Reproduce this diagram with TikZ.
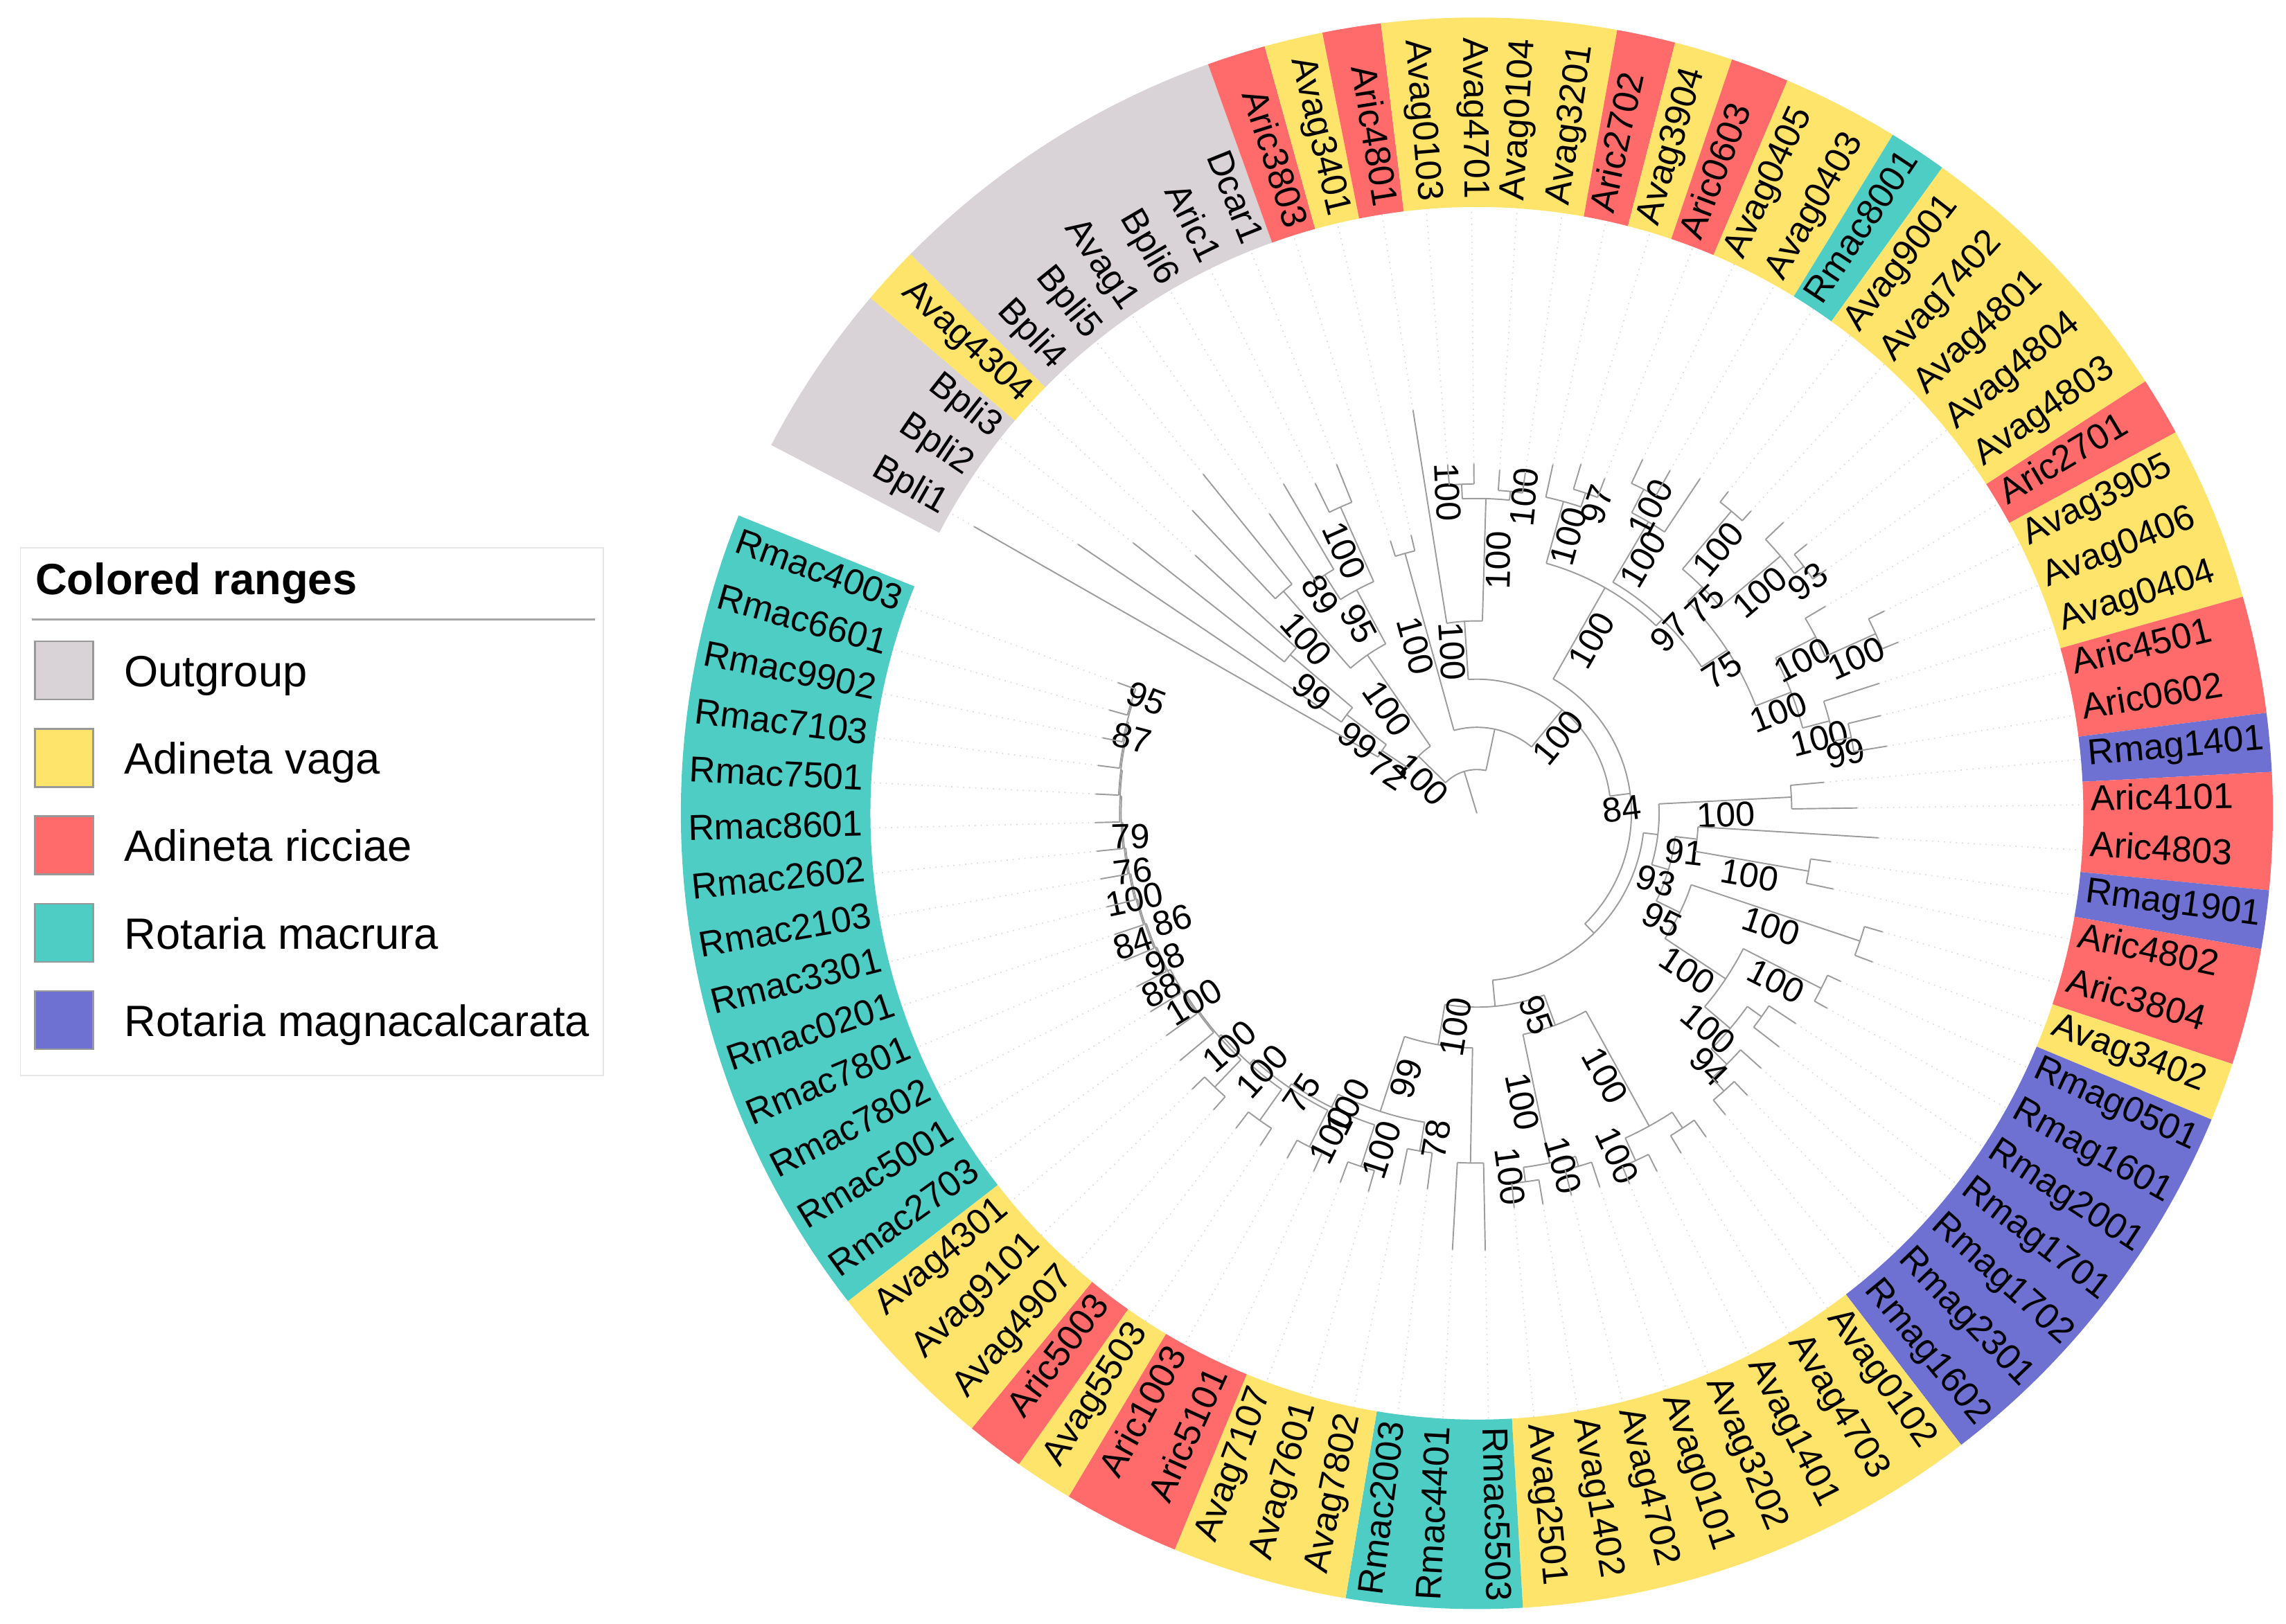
\documentclass[tikz,border=0pt]{standalone}
\usepackage{fontspec}
\setmainfont{Liberation Sans}

\definecolor{ogrey}{HTML}{D9D2D6}
\definecolor{avag}{HTML}{FFE46C}
\definecolor{aric}{HTML}{FF6B6B}
\definecolor{rmac}{HTML}{4ECDC4}
\definecolor{rmag}{HTML}{6E70D2}
\definecolor{treegrey}{HTML}{9C9C9C}
\definecolor{dotgrey}{HTML}{D6D6D6}

\tikzset{
  branch/.style={draw=treegrey, line width=0.55pt},
  tipline/.style={draw=dotgrey, dotted, line width=0.45pt},
  boot/.style={font=\fontsize{14.3}{16}\selectfont, inner sep=0.6pt},
  leaflab/.style={font=\fontsize{14.8}{17}\selectfont, inner sep=0pt},
  legtext/.style={font=\fontsize{18}{21}\selectfont, anchor=base west, inner sep=0pt},
  swatch/.style={draw=gray!80, line width=0.7pt, minimum size=0.84cm, inner sep=0pt}
}

% clade: name, angle, parent radius, node radius, arc from, arc to, support
\newcommand\clade[7]{%
  \draw[branch] (#2:#3) -- (#2:#4);
  \draw[branch] (#5:#4) arc[start angle=#5, end angle=#6, radius=#4];
  \pgfmathsetmacro\bsrot{cos(#2)<0 ? #2+180 : #2}
  \node[boot, rotate=\bsrot, anchor=north] (#1) at ({#2}:{(#3+#4)/2}) {#7};
}
% same, support value set at its own angle and radius
\newcommand\cladeat[9]{%
  \draw[branch] (#2:#3) -- (#2:#4);
  \draw[branch] (#5:#4) arc[start angle=#5, end angle=#6, radius=#4];
  \pgfmathsetmacro\bsrot{cos(#8)<0 ? #8+180 : #8}
  \node[boot, rotate=\bsrot, anchor=north] (#1) at (#8:#9) {#7};
}
% clade without support value
\newcommand\cladeb[5]{%
  \draw[branch] (#1:#2) -- (#1:#3);
  \draw[branch] (#4:#3) arc[start angle=#4, end angle=#5, radius=#3];
}
% leaf: angle, parent radius, tip radius
\newcommand\leaf[3]{%
  \draw[branch] (#1:#2) -- (#1:#3);
  \draw[tipline] (#1:#3) -- (#1:416);
}

\begin{document}
\begin{tikzpicture}[x=0.021046cm, y=0.021046cm]
\useasboundingbox (-1013,-556) rectangle (555,558);

% colored ranges
\foreach \p/\q/\c in {1/3/ogrey, 4/4/avag, 5/10/ogrey, 11/11/aric, 12/12/avag,
    13/13/aric, 14/17/avag, 18/18/aric, 19/19/avag, 20/20/aric, 21/22/avag,
    23/23/rmac, 24/28/avag, 29/29/aric, 30/32/avag, 33/34/aric, 35/35/rmag,
    36/37/aric, 38/38/rmag, 39/40/aric, 41/41/avag, 42/48/rmag, 49/56/avag,
    57/59/rmac, 60/62/avag, 63/64/aric, 65/65/avag, 66/66/aric, 67/69/avag,
    70/83/rmac}{
  \pgfmathsetmacro\angA{150.3-4.27*(\p-1)+2.135}
  \pgfmathsetmacro\angB{150.3-4.27*(\q-1)-2.135}
  \fill[\c] (\angA:416) arc[start angle=\angA, end angle=\angB, radius=416]
    -- (\angB:546) arc[start angle=\angB, end angle=\angA, radius=546] -- cycle;
}

% leaf names
\foreach \nm [count=\i] in {Bpli1, Bpli2, Bpli3, Avag4304, Bpli4, Bpli5, Avag1,
    Bpli6, Aric1, Dcar1, Aric3803, Avag3401, Aric4801, Avag0103, Avag4701,
    Avag0104, Avag3201, Aric2702, Avag3904, Aric0603, Avag0405, Avag0403,
    Rmac8001, Avag9001, Avag7402, Avag4801, Avag4804, Avag4803, Aric2701,
    Avag3905, Avag0406, Avag0404, Aric4501, Aric0602, Rmag1401, Aric4101,
    Aric4803, Rmag1901, Aric4802, Aric3804, Avag3402, Rmag0501, Rmag1601,
    Rmag2001, Rmag1701, Rmag1702, Rmag2301, Rmag1602, Avag0102, Avag4703,
    Avag1401, Avag3202, Avag0101, Avag4702, Avag1402, Avag2501, Rmac5503,
    Rmac4401, Rmac2003, Avag7802, Avag7601, Avag7107, Aric5101, Aric1003,
    Avag5503, Aric5003, Avag4907, Avag9101, Avag4301, Rmac2703, Rmac5001,
    Rmac7802, Rmac7801, Rmac0201, Rmac3301, Rmac2103, Rmac2602, Rmac8601,
    Rmac7501, Rmac7103, Rmac9902, Rmac6601, Rmac4003}{
  \pgfmathsetmacro\ang{150.3-4.27*(\i-1)}
  \pgfmathtruncatemacro\lft{cos(\ang)<0}
  \ifnum\lft=1
    \node[leaflab, rotate=\ang+180, anchor=mid east] (leaf\i) at (\ang:421) {\nm};
  \else
    \node[leaflab, rotate=\ang, anchor=mid west] (leaf\i) at (\ang:421) {\nm};
  \fi
}

% root
\cladeb{106.8}{0}{30}{135.62}{77.99}

% outgroup
\clade{og}{135.62}{30}{56}{146.57}{124.67}{100}
\clade{oa}{146.57}{56}{78}{150.3}{142.83}{72}
\leaf{150.3}{78}{397}
\clade{oa1}{142.83}{78}{112}{146.0}{139.65}{99}
\leaf{146.0}{112}{330}
\clade{oa2}{139.65}{112}{168}{141.8}{137.5}{99}
\leaf{141.8}{168}{300}
\leaf{137.5}{168}{262}
\clade{ob}{124.67}{56}{132}{131.05}{118.28}{100}
\clade{ob1}{131.05}{132}{202}{133.2}{128.9}{100}
\leaf{133.2}{202}{285}
\leaf{128.9}{202}{299}
\clade{ob2}{118.28}{132}{174}{122.55}{114.0}{95}
\clade{ob2b}{122.55}{174}{194}{124.7}{120.4}{89}
\leaf{124.7}{194}{250}
\leaf{120.4}{194}{262}
\clade{ob2a}{114.0}{174}{230}{116.1}{111.9}{100}
\leaf{116.1}{230}{252}
\leaf{111.9}{230}{258}

% ingroup
\cladeb{77.99}{30}{59}{105.45}{50.53}
\clade{p}{105.45}{59}{185}{107.6}{103.3}{100}
\leaf{107.6}{185}{196}
\leaf{103.3}{185}{196}
\clade{n2}{50.53}{59}{92}{93.68}{7.37}{100}
\clade{u}{93.68}{92}{132}{99.0}{88.35}{100}
\leaf{99.0}{132}{280}
\clade{u2}{88.35}{132}{216}{92.65}{84.05}{100}
\clade{u2a}{92.65}{216}{226}{94.8}{90.5}{100}
\leaf{94.8}{226}{240}
\leaf{90.5}{226}{240}
\clade{u2b}{84.05}{216}{222}{86.2}{81.9}{100}
\leaf{86.2}{222}{236}
\leaf{81.9}{222}{236}
\clade{n84}{7.37}{92}{106}{60.40}{-45.66}{84}

% upper right
\clade{ur}{60.40}{106}{178}{74.48}{46.31}{100}
\clade{ura}{74.48}{178}{222}{77.7}{71.25}{100}
\leaf{77.7}{222}{245}
\clade{x}{71.25}{222}{232}{73.4}{69.1}{97}
\leaf{73.4}{232}{250}
\leaf{69.1}{232}{246}
\clade{urb}{46.31}{178}{184}{59.53}{33.09}{97}
\clade{z}{59.53}{184}{232}{62.75}{56.3}{100}
\clade{v}{62.75}{232}{250}{64.9}{60.6}{100}
\leaf{64.9}{250}{268}
\leaf{60.6}{250}{270}
\leaf{56.3}{232}{276}
\clade{l}{33.09}{184}{205}{45.09}{21.08}{75}
\clade{k}{45.09}{205}{219}{49.9}{40.28}{75}
\clade{m1}{49.9}{219}{271}{52.0}{47.8}{100}
\leaf{52.0}{271}{280}
\leaf{47.8}{271}{280}
\clade{m3}{40.28}{219}{273}{43.5}{37.05}{100}
\leaf{43.5}{273}{290}
\clade{m3b}{37.05}{273}{281}{39.2}{34.9}{93}
\leaf{39.2}{281}{292}
\leaf{34.9}{281}{292}
\clade{m4}{21.08}{205}{231}{27.48}{14.68}{100}
\clade{m5}{27.48}{231}{262}{30.7}{24.25}{100}
\leaf{30.7}{262}{278}
\clade{m5b}{24.25}{262}{300}{26.4}{22.1}{100}
\leaf{26.4}{300}{312}
\leaf{22.1}{300}{312}
\clade{m6a}{14.68}{231}{250}{17.9}{11.45}{100}
\leaf{17.9}{250}{290}
\clade{m6b}{11.45}{250}{262}{13.6}{9.3}{99}
\leaf{13.6}{262}{285}
\leaf{9.3}{262}{285}

% right
\cladeb{-45.66}{106}{115}{-6.71}{-84.6}
\cladeb{-6.71}{115}{125}{2.95}{-16.38}
\clade{ra1}{2.95}{125}{216}{5.1}{0.8}{100}
\leaf{5.1}{216}{239}
\leaf{0.8}{216}{261}
\clade{rg2}{-16.38}{125}{137}{-6.7}{-26.05}{93}
\clade{rb0}{-6.7}{137}{152}{-3.5}{-9.9}{91}
\leaf{-3.5}{152}{276}
\clade{rb1}{-9.9}{152}{231}{-7.8}{-12.0}{100}
\leaf{-7.8}{231}{245}
\leaf{-12.0}{231}{250}
\clade{rd}{-26.05}{137}{155}{-18.45}{-33.64}{95}
\clade{rc}{-18.45}{155}{277}{-16.3}{-20.6}{100}
\leaf{-16.3}{277}{290}
\leaf{-20.6}{277}{290}
\clade{re}{-33.64}{155}{205}{-26.95}{-40.34}{100}
\clade{re1}{-26.95}{205}{265}{-24.8}{-29.1}{100}
\leaf{-24.8}{265}{275}
\leaf{-29.1}{265}{275}
\clade{re4}{-40.34}{205}{228}{-35.55}{-45.13}{100}
\cladeb{-35.55}{228}{240}{-33.4}{-37.7}
\leaf{-33.4}{240}{262}
\leaf{-37.7}{240}{262}
\clade{re6}{-45.13}{228}{243}{-41.9}{-48.35}{94}
\leaf{-41.9}{243}{262}
\cladeb{-48.35}{243}{255}{-46.2}{-50.5}
\leaf{-46.2}{255}{268}
\leaf{-50.5}{255}{268}

% bottom
\cladeb{-84.6}{115}{133}{-99.5}{-69.69}
\clade{bgr}{-69.69}{133}{155}{-61.15}{-78.23}{95}
\clade{r1}{-61.15}{155}{245}{-56.85}{-65.45}{100}
\cladeb{-56.85}{245}{258}{-54.7}{-59.0}
\leaf{-54.7}{258}{272}
\leaf{-59.0}{258}{272}
\clade{r1b}{-65.45}{245}{262}{-63.3}{-67.6}{100}
\leaf{-63.3}{262}{275}
\leaf{-67.6}{262}{275}
\clade{r2}{-78.23}{155}{245}{-73.95}{-82.5}{100}
\clade{r2a}{-73.95}{245}{252}{-71.8}{-76.1}{100}
\leaf{-71.8}{252}{270}
\leaf{-76.1}{252}{270}
\clade{r2b}{-82.5}{245}{255}{-80.4}{-84.6}{100}
\leaf{-80.4}{255}{272}
\leaf{-84.6}{255}{272}
\clade{bgl}{-99.5}{133}{161}{-91.05}{-107.95}{100}
\cladeb{-91.05}{161}{240}{-88.9}{-93.2}
\leaf{-88.9}{240}{300}
\leaf{-93.2}{240}{300}
\clade{t2}{-107.95}{161}{215}{-99.6}{-116.29}{99}
\clade{c1}{-99.6}{215}{235}{-97.5}{-101.7}{78}
\leaf{-97.5}{235}{260}
\leaf{-101.7}{235}{260}
\clade{u1}{-116.29}{215}{225}{-108.15}{-124.42}{100}
\clade{c2}{-108.15}{225}{255}{-106.0}{-110.3}{100}
\leaf{-106.0}{255}{270}
\leaf{-110.3}{255}{270}
\clade{uu2}{-124.42}{225}{228}{-116.65}{-132.18}{75}
\clade{c3}{-116.65}{228}{256}{-114.5}{-118.8}{100}
\leaf{-114.5}{256}{270}
\leaf{-118.8}{256}{270}
\clade{uu3}{-132.18}{228}{232}{-125.25}{-139.10}{100}
\cladeb{-125.25}{232}{258}{-123.1}{-127.4}
\leaf{-123.1}{258}{272}
\leaf{-127.4}{258}{272}
\clade{uu4}{-139.10}{232}{234}{-133.75}{-144.45}{100}
\cladeb{-133.75}{234}{260}{-131.6}{-135.9}
\leaf{-131.6}{260}{272}
\leaf{-135.9}{260}{272}
\cladeb{-144.45}{234}{235}{-140.2}{-148.70}
\leaf{-140.2}{235}{265}

% left arc
\cladeat{rm1}{-148.70}{235}{236}{-144.4}{-152.99}{100}{-148.70}{233}
\leaf{-144.4}{236}{262}
\cladeat{rm2}{-152.99}{236}{238}{-148.7}{-157.27}{88}{-152.99}{248}
\leaf{-148.7}{238}{262}
\cladeat{rm3}{-157.27}{238}{239}{-153.0}{-161.54}{98}{-157.27}{236}
\leaf{-153.0}{239}{262}
\cladeat{rm4}{-161.54}{239}{240}{-157.3}{-165.78}{84}{-161.54}{252}
\leaf{-157.3}{240}{262}
\cladeat{rm5}{-165.78}{240}{241}{-161.5}{-170.06}{86}{-163.2}{221}
\leaf{-161.5}{241}{262}
\cladeat{rm6}{-170.06}{241}{242}{-165.8}{-174.32}{100}{-168.2}{242}
\leaf{-165.8}{242}{262}
\cladeat{rm7}{-174.32}{242}{243}{-170.1}{-178.53}{76}{-172.8}{239}
\leaf{-170.1}{243}{262}
\cladeat{rm8}{-178.53}{243}{244}{-174.3}{-182.76}{79}{-178.53}{238}
\leaf{-174.3}{244}{262}
\cladeb{-182.76}{244}{245}{-178.6}{-186.91}
\leaf{-178.6}{245}{262}
\cladeb{-186.91}{245}{246}{-182.9}{-190.91}
\leaf{-182.9}{246}{262}
\cladeb{-190.91}{246}{247}{-187.2}{-194.63}
\leaf{-187.2}{247}{262}
\cladeat{rm12}{-194.63}{247}{248}{-191.4}{-197.85}{87}{-194.63}{242}
\leaf{-191.4}{248}{262}
\cladeat{rm13}{-197.85}{248}{249}{-195.7}{-200.0}{95}{-201.5}{240}
\leaf{-195.7}{249}{262}
\leaf{-200.0}{249}{262}

% legend
\draw[draw=gray!20, fill=white, line width=0.5pt] (-999,-180) rectangle (-599,182);
\node[font=\bfseries\fontsize{18}{21}\selectfont, anchor=base west, inner sep=0pt]
  (legtitle) at (-989,150) {Colored ranges};
\draw[gray!70, line width=1.1pt] (-991,133) -- (-605,133);
\node[swatch, fill=ogrey] (sw1) at (-969,98) {};
\node[swatch, fill=avag] (sw2) at (-969,38) {};
\node[swatch, fill=aric] (sw3) at (-969,-22) {};
\node[swatch, fill=rmac] (sw4) at (-969,-82) {};
\node[swatch, fill=rmag] (sw5) at (-969,-142) {};
\node[legtext] (lt1) at (-928,87) {Outgroup};
\node[legtext] (lt2) at (-928,27) {Adineta vaga};
\node[legtext] (lt3) at (-928,-33) {Adineta ricciae};
\node[legtext] (lt4) at (-928,-93) {Rotaria macrura};
\node[legtext] (lt5) at (-928,-153) {Rotaria magnacalcarata};

\end{tikzpicture}
\end{document}
